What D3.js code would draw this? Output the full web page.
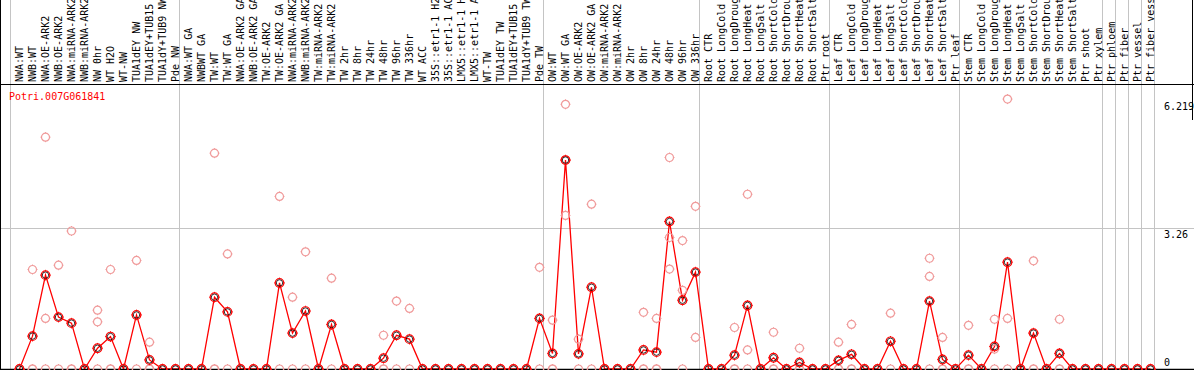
<!DOCTYPE html>
<html>
<head>
<meta charset="utf-8">
<script src="https://cdn.jsdelivr.net/npm/d3@7"></script>
<style>
  body { margin: 0; background: #fff; }
  svg { display: block; }
  text { font-family: "DejaVu Sans Mono", monospace; font-size: 10px; }
</style>
</head>
<body>
<svg id="chart"></svg>
<script>
// gene shown
var geneId = "Potri.007G061841";

// sample labels, left to right
var samples = [
  "NWA:WT", "NWB:WT", "NWA:OE-ARK2", "NWB:OE-ARK2", "NWA:miRNA-ARK2", "NWB:miRNA-ARK2",
  "NW 0hr", "WT H2O", "WT-NW", "TUA1dEY NW", "TUA1dEY+TUB15 NW", "TUA1dY+TUB9 NW", "Pde NW",
  "NWA:WT GA", "NWBWT GA", "TW:WT", "TW:WT GA", "NWA:OE-ARK2 GA", "NWB:OE-ARK2 GA",
  "TW:OE-ARK2", "TW:OE-ARK2 GA", "NWA:miRNA-ARK2", "NWB:miRNA-ARK2", "TW:miRNA-ARK2",
  "TW:miRNA-ARK2", "TW 2hr", "TW 8hr", "TW 24hr", "TW 48hr", "TW 96hr", "TW 336hr", "WT ACC",
  "35S::etr1-1 H2O", "35S::etr1-1 ACC", "LMX5::etr1-1 H2O", "LMX5::etr1-1 ACC", "WT-TW",
  "TUA1dEY TW", "TUA1dEY+TUB15 TW", "TUA1dY+TUB9 TW", "Pde TW",
  "OW:WT", "OW:WT GA", "OW:OE-ARK2", "OW:OE-ARK2 GA", "OW:miRNA-ARK2", "OW:miRNA-ARK2",
  "OW 2hr", "OW 8hr", "OW 24hr", "OW 48hr", "OW 96hr", "OW 336hr",
  "Root CTR", "Root LongCold", "Root LongDrought", "Root LongHeat", "Root LongSalt",
  "Root ShortCold", "Root ShortDrought", "Root ShortHeat", "Root ShortSalt", "Ptr root",
  "Leaf CTR", "Leaf LongCold", "Leaf LongDrought", "Leaf LongHeat", "Leaf LongSalt",
  "Leaf ShortCold", "Leaf ShortDrought", "Leaf ShortHeat", "Leaf ShortSalt", "Ptr leaf",
  "Stem CTR", "Stem LongCold", "Stem LongDrought", "Stem LongHeat", "Stem LongSalt",
  "Stem ShortCold", "Stem ShortDrought", "Stem ShortHeat", "Stem ShortSalt", "Ptr shoot",
  "Ptr xylem", "Ptr phloem", "Ptr fiber", "Ptr vessel", "Ptr fiber vessel"
];

// how many samples in each experiment block
var groupSizes = [13, 28, 12, 10, 10, 11, 1, 1, 1, 1];

// mean expression per sample
var means = [
  0, 0.76, 2.17, 1.20, 1.06, 0, 0.48, 0.75, 0, 1.25, 0.21, 0, 0,
  0, 0, 1.66, 1.32, 0, 0, 0, 1.99, 0.83, 1.34, 0, 1.03, 0, 0, 0, 0.25, 0.78, 0.69, 0,
  0, 0, 0, 0, 0, 0, 0, 0, 1.17,
  0.36, 4.83, 0.35, 1.89, 0, 0, 0, 0.44, 0.39, 3.41, 1.59, 2.24,
  0, 0, 0.32, 1.47, 0, 0.26, 0, 0.15, 0, 0,
  0.20, 0.34, 0, 0, 0.64, 0, 0, 1.57, 0.22, 0,
  0.32, 0, 0.52, 2.47, 0, 0.83, 0, 0.36, 0, 0,
  0, 0, 0, 0, 0
];

// individual replicates per sample
var replicates = [
  [0, 0, 0], [2.30, 0, 0], [5.36, 1.17, 0], [2.40, 0], [3.19, 0, 0], [0, 0],
  [1.36, 1.09, 0], [2.30, 0, 0], [0, 0], [2.51, 0], [0.62, 0, 0], [0, 0], [0, 0],
  [0, 0], [0, 0], [4.99, 0, 0], [2.66, 0], [0, 0], [0, 0],
  [0, 0], [3.99, 0], [1.66, 0], [2.71, 0], [0, 0],
  [2.10, 0], [0, 0], [0, 0], [0, 0], [0.78, 0, 0], [1.57, 0], [1.40, 0], [0, 0],
  [0, 0], [0, 0], [0, 0], [0, 0], [0, 0],
  [0, 0], [0, 0], [0, 0], [2.35, 0],
  [1.13, 0, 0], [6.12, 3.55, 4.83], [0.69, 0], [3.81, 0], [0, 0], [0, 0],
  [0, 0], [1.31, 0, 0], [1.17, 0, 0], [4.89, 3.04, 2.31], [2.97, 1.82, 0], [3.76, 0.73],
  [0, 0], [0, 0], [0.96, 0, 0], [4.04, 0.44, 0], [0, 0],
  [0.85, 0, 0], [0, 0], [0.48, 0, 0], [0, 0], [0, 0],
  [0.62, 0, 0], [1.03, 0, 0], [0, 0], [0, 0], [1.29, 0],
  [0, 0], [0, 0], [2.56, 2.14, 0], [0.73, 0, 0], [0, 0],
  [1.01, 0, 0], [0, 0], [1.15, 0.46, 0], [6.24, 1.17, 0], [0, 0],
  [2.50, 0, 0], [0, 0], [1.15, 0, 0], [0, 0], [0, 0],
  [0, 0], [0, 0], [0, 0], [0, 0], [0, 0]
];

// value ticks on the right
var tickValues = [6.219, 3.26, 0];
var tickLabels = ["6.219", "3.26", "0"];

var width = 1194,
    height = 370,
    colW = 13,
    labelBottom = 84,
    plotTop = 100,
    plotBottom = 369;

var svg = d3.select("#chart")
    .attr("width", width)
    .attr("height", height);

var x = d3.scaleBand()
    .domain(d3.range(samples.length))
    .range([10.5, 10.5 + colW * samples.length]);

var y = d3.scaleLinear()
    .domain([0, tickValues[0]])
    .range([plotBottom, plotTop]);

var px = function(i) { return x(i) + 9; };

// block boundaries
var bounds = [0];
groupSizes.forEach(function(s) { bounds.push(bounds[bounds.length - 1] + s); });

svg.selectAll(".vgrid")
    .data(bounds)
  .enter().append("line")
    .attr("x1", function(b) { return b < samples.length ? x(b) : x.range()[1]; })
    .attr("x2", function(b) { return b < samples.length ? x(b) : x.range()[1]; })
    .attr("y1", 0)
    .attr("y2", plotBottom)
    .attr("stroke", "#c4c4c4")
    .attr("stroke-width", 1);

// middle grid line
svg.append("line")
    .attr("x1", 0).attr("x2", width)
    .attr("y1", Math.round(y(tickValues[1])) + 0.5)
    .attr("y2", Math.round(y(tickValues[1])) + 0.5)
    .attr("stroke", "#c4c4c4");

// sample labels, rotated (long ones run off the top like the original)
svg.selectAll(".lab")
    .data(samples)
  .enter().append("text")
    .attr("transform", function(d, i) { return "translate(" + (x(i) + 12) + "," + 82 + ") rotate(-90)"; })
    .attr("fill", "#000")
    .text(function(d) { return d; });

// frame lines
svg.append("line")
    .attr("x1", 0).attr("x2", width)
    .attr("y1", labelBottom + 0.5).attr("y2", labelBottom + 0.5)
    .attr("stroke", "#000");
svg.append("line")
    .attr("x1", 0.5).attr("x2", 0.5)
    .attr("y1", 0).attr("y2", height)
    .attr("stroke", "#000");

// gene name
svg.append("text")
    .attr("x", 9)
    .attr("y", 100)
    .attr("fill", "#ff0000")
    .text(geneId);

// right side value labels
svg.selectAll(".tick")
    .data(tickValues)
  .enter().append("text")
    .attr("x", 1164)
    .attr("y", function(d, i) { return i < 2 ? y(d) + 10 : y(d) - 3; })
    .attr("fill", "#000")
    .text(function(d, i) { return tickLabels[i]; });

// right edge of the label box
svg.append("line")
    .attr("x1", width - 1.5).attr("x2", width - 1.5)
    .attr("y1", 0).attr("y2", 120)
    .attr("stroke", "#000");

// mean line
var line = d3.line()
    .x(function(d, i) { return px(i); })
    .y(function(d) { return y(d); });

svg.append("path")
    .datum(means)
    .attr("d", line)
    .attr("fill", "none")
    .attr("stroke", "#ff0000")
    .attr("stroke-width", 1.3);

// bottom axis line
svg.append("line")
    .attr("x1", 0).attr("x2", width)
    .attr("y1", plotBottom + 0.5).attr("y2", plotBottom + 0.5)
    .attr("stroke", "#000")
    .attr("stroke-width", 1.5);

function marker(g, color, r) {
  g.append("circle")
      .attr("r", r)
      .attr("fill", "none")
      .attr("stroke", color)
      .attr("stroke-width", 1.2);
  [[0, -1], [0, 1], [-1, 0], [1, 0]].forEach(function(v) {
    g.append("line")
        .attr("x1", v[0] * r).attr("y1", v[1] * r)
        .attr("x2", v[0] * (r + 1)).attr("y2", v[1] * (r + 1))
        .attr("stroke", color)
        .attr("stroke-width", 1);
  });
}

// replicate points
var repPoints = [];
replicates.forEach(function(reps, i) {
  reps.forEach(function(v) { repPoints.push({i: i, v: v}); });
});

svg.selectAll(".rep")
    .data(repPoints)
  .enter().append("g")
    .attr("transform", function(d) { return "translate(" + px(d.i) + "," + y(d.v) + ")"; })
    .each(function() { marker(d3.select(this), "#f09a9a", 4); });

// mean points
svg.selectAll(".mean")
    .data(means)
  .enter().append("g")
    .attr("transform", function(d, i) { return "translate(" + px(i) + "," + y(d) + ")"; })
    .each(function() {
      var g = d3.select(this);
      marker(g, "#ff0000", 4.3);
      g.append("circle")
          .attr("r", 3.2)
          .attr("fill", "none")
          .attr("stroke", "#000")
          .attr("stroke-width", 0.8);
    });
</script>
</body>
</html>
